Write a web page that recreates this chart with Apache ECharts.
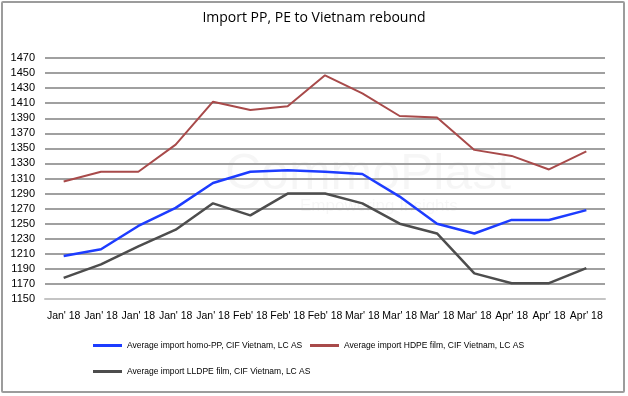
<!DOCTYPE html>
<html><head><meta charset="utf-8">
<script src="https://cdn.jsdelivr.net/npm/echarts@6/dist/echarts.min.js"></script>
<style>html,body{margin:0;padding:0;background:#fff}#c{width:628px;height:396px}</style>
</head><body><div id="c"></div>
<script>
const categories = ["Jan' 18","Jan' 18","Jan' 18","Jan' 18","Jan' 18","Feb' 18","Feb' 18","Feb' 18","Mar' 18","Mar' 18","Mar' 18","Mar' 18","Apr' 18","Apr' 18","Apr' 18"];
const homoPP = [1207,1216,1247,1271,1304,1319,1321,1319,1316,1286,1250,1237,1255,1255,1268];
const hdpeFilm = [1306,1319,1319,1355,1412,1401,1406,1447,1423,1393,1391,1348,1340,1322,1346];
const lldpeFilm = [1178,1196,1220,1242,1277,1261,1290,1290,1277,1250,1237,1184,1171,1171,1191];
const seriesNames = ['Average import homo-PP, CIF Vietnam, LC AS','Average import HDPE film, CIF Vietnam, LC AS','Average import LLDPE film, CIF Vietnam, LC AS'];
const colors = ['#1d3cff','#a84a4a','#4d4d4d'];
const font = "'Liberation Sans',sans-serif";
const chart = echarts.init(document.getElementById('c'));
const legendCommon = {icon:'rect', itemWidth:29, itemHeight:3, padding:0, textStyle:{fontSize:8.5, fontFamily:font, color:'#000'}, selectedMode:false};
chart.setOption({
  animation:false,
  title:{text:'Import PP, PE to Vietnam rebound', left:'center', top:6, textStyle:{fontSize:14, fontWeight:'normal', fontFamily:"'Open Sans',sans-serif", color:'#000'}},
  graphic:[
    {type:'rect', shape:{x:2,y:2,width:622,height:390,r:1}, style:{fill:'none', stroke:'#9c9c9c', lineWidth:2}, z:-10},
    {type:'text', left:225, top:150, style:{text:'CommoPlast', fontSize:50, fontFamily:font, fill:'rgba(0,0,0,0.035)'}, z:-5},
    {type:'text', left:300, top:198, style:{text:'Empowering Insights', fontSize:17, fontFamily:font, fill:'rgba(0,0,0,0.035)'}, z:-5}
  ],
  legend:[
    Object.assign({left:93, top:341, data:[seriesNames[0]]}, legendCommon),
    Object.assign({left:310, top:341, data:[seriesNames[1]]}, legendCommon),
    Object.assign({left:93, top:367, data:[seriesNames[2]]}, legendCommon)
  ],
  grid:{left:45, right:23, top:58, bottom:97, containLabel:false},
  xAxis:{type:'category', data:categories, boundaryGap:true,
    axisLine:{show:true, lineStyle:{color:'#c4c4c4', width:2}}, axisTick:{show:false},
    axisLabel:{interval:0, fontSize:10.5, fontFamily:font, color:'#000', margin:12}},
  yAxis:{type:'value', min:1150, max:1470, interval:20,
    axisLine:{show:false}, axisTick:{show:false},
    axisLabel:{fontSize:11, fontFamily:font, color:'#000', margin:10, formatter:function(v){return String(v);}},
    splitLine:{lineStyle:{color:'#a0a0a0', width:2}}},
  series:[
    {name:seriesNames[0], type:'line', data:homoPP, symbol:'none', lineStyle:{width:2.5, color:colors[0]}, itemStyle:{color:colors[0]}},
    {name:seriesNames[1], type:'line', data:hdpeFilm, symbol:'none', lineStyle:{width:2, color:colors[1]}, itemStyle:{color:colors[1]}},
    {name:seriesNames[2], type:'line', data:lldpeFilm, symbol:'none', lineStyle:{width:2.5, color:colors[2]}, itemStyle:{color:colors[2]}}
  ]
});
</script></body></html>
